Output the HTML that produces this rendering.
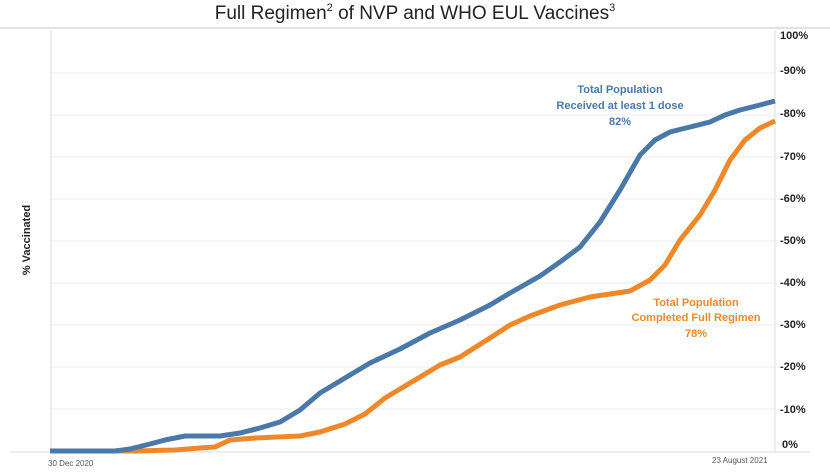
<!DOCTYPE html>
<html><head><style>
body{margin:0;background:#fff;width:830px;height:468px;overflow:hidden;font-family:"Liberation Sans",sans-serif}
</style></head><body>
<svg width="830" height="468" xmlns="http://www.w3.org/2000/svg" font-family="Liberation Sans, sans-serif">
<text x="415" y="19" text-anchor="middle" font-size="19" fill="#222">Full Regimen<tspan font-size="11" dy="-8">2</tspan><tspan dy="8">  of NVP and WHO EUL Vaccines</tspan><tspan font-size="11" dy="-8">3</tspan></text>
<line x1="0" y1="28" x2="830" y2="28" stroke="#d8d8d8" stroke-width="1.5"/>
<g stroke="#eeeeee" stroke-width="1">
<line x1="51" y1="73" x2="775" y2="73"/><line x1="51" y1="115" x2="775" y2="115"/>
<line x1="51" y1="157" x2="775" y2="157"/><line x1="51" y1="199" x2="775" y2="199"/>
<line x1="51" y1="241" x2="775" y2="241"/><line x1="51" y1="283" x2="775" y2="283"/>
<line x1="51" y1="325" x2="775" y2="325"/><line x1="51" y1="367" x2="775" y2="367"/>
<line x1="51" y1="409" x2="775" y2="409"/>
</g>
<line x1="51" y1="30" x2="51" y2="452" stroke="#ddd"/>
<line x1="775" y1="30" x2="775" y2="452" stroke="#ddd"/>
<line x1="10" y1="452" x2="810" y2="452" stroke="#ddd"/>
<g font-size="11" fill="#222" font-weight="bold">
<text x="780" y="39">100%</text><text x="780" y="74">-90%</text><text x="780" y="117">-80%</text>
<text x="780" y="160">-70%</text><text x="780" y="202">-60%</text><text x="780" y="244">-50%</text>
<text x="780" y="286">-40%</text><text x="780" y="328">-30%</text><text x="780" y="370">-20%</text>
<text x="780" y="413">-10%</text><text x="782" y="448">0%</text>
</g>
<text transform="translate(30,240) rotate(-90)" text-anchor="middle" font-size="11" font-weight="bold" fill="#222">% Vaccinated</text>
<text x="48" y="466" font-size="8" fill="#555">30 Dec 2020</text>
<text x="712" y="463" font-size="8" fill="#555">23 August 2021</text>
<polyline fill="none" stroke="#f0882a" stroke-width="5" stroke-linejoin="round" points="50,451 135,451 175,450 200,448 215,447 230,440 255,438 300,436 320,432 345,424 365,414 385,398 410,383 440,365 460,357 490,338 510,325 530,316 560,305 590,297 610,294 630,291 650,280 665,265 680,240 700,215 715,190 730,160 745,140 760,128 775,121"/>
<polyline fill="none" stroke="#4a78a8" stroke-width="5" stroke-linejoin="round" points="50,451 115,451 130,449 150,444 165,440 185,436 220,436 240,433 260,428 280,422 300,410 320,393 345,378 370,363 400,349 430,333 460,320 490,305 510,293 540,276 560,262 580,247 600,222 620,190 640,155 655,140 670,132 690,127 710,122 725,115 740,110 760,105 775,101"/>
<g font-size="11" fill="#4a78a8" text-anchor="middle" font-weight="bold">
<text x="620" y="93">Total Population</text><text x="620" y="109">Received at least 1 dose</text><text x="620" y="125">82%</text>
</g>
<g font-size="11" fill="#f0882a" text-anchor="middle" font-weight="bold">
<text x="696" y="306">Total Population</text><text x="696" y="321">Completed Full Regimen</text><text x="696" y="337">78%</text>
</g>
</svg>
</body></html>
